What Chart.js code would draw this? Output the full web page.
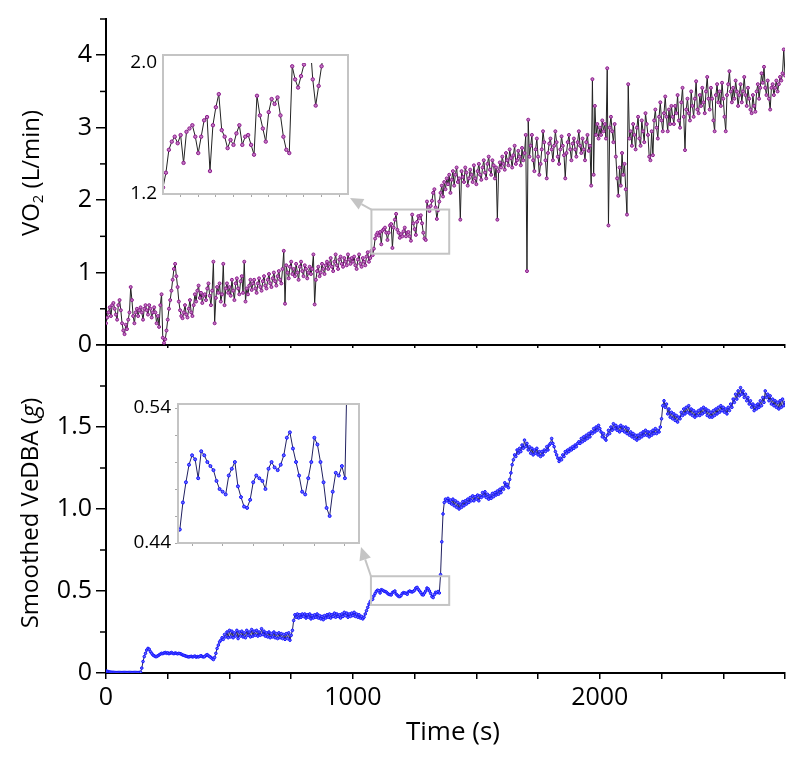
<!DOCTYPE html>
<html>
<head>
<meta charset="utf-8">
<script src="https://cdn.jsdelivr.net/npm/chart.js@4.4.1/dist/chart.umd.min.js"></script>
<style>
  body { margin: 0; background: #fff; }
  #wrap { position: relative; width: 800px; height: 759px; font-family: "Open Sans", sans-serif; color: #000; }
  canvas { position: absolute; left: 0; top: 0; }
  .title { position: absolute; white-space: nowrap; line-height: 1; }
  .rot { transform: translate(-50%, -50%) rotate(-90deg); }
  .hor { transform: translate(-50%, -50%); }
  sub { font-size: 0.62em; vertical-align: -0.25em; line-height: 0; }
</style>
</head>
<body>
<div id="wrap">
  <canvas id="vo2Main" width="800" height="759"></canvas>
  <canvas id="vedbaMain" width="800" height="759"></canvas>
  <canvas id="vo2Inset" width="800" height="759"></canvas>
  <canvas id="vedbaInset" width="800" height="759"></canvas>
  <div class="title rot" style="left:30px; top:173px; font-size:24px;">VO<sub>2</sub> (L/min)</div>
  <div class="title rot" style="left:29px; top:513px; font-size:24px;">Smoothed VeDBA (<i>g</i>)</div>
  <div class="title hor" style="left:453px; top:730px; font-size:26px;">Time (s)</div>
</div>
<script>
// samples every 5 s, from 0 to 2750 s
const SAMPLE_STEP = 5;

// VO2 (L/min), one value per sample
const vo2 = [
  0.30,0.38,0.45,0.52,0.40,0.55,0.58,0.50,0.42,0.35,0.55,0.62,0.48,0.30,0.20,0.15,0.28,0.22,0.35,0.45,
  0.80,0.62,0.40,0.30,0.45,0.50,0.40,0.48,0.52,0.45,0.35,0.50,0.55,0.48,0.42,0.55,0.50,0.38,0.45,0.52,
  0.45,0.30,0.40,0.25,0.55,0.70,0.10,0.03,0.08,0.20,0.35,0.50,0.62,0.75,0.90,1.05,1.12,0.95,0.80,0.60,
  0.48,0.40,0.37,0.45,0.55,0.42,0.38,0.50,0.62,0.45,0.40,0.55,0.70,0.60,0.75,0.82,0.65,0.72,0.58,0.68,
  0.70,0.62,0.78,0.85,0.68,0.55,0.75,1.15,0.30,0.65,0.80,0.72,0.85,0.60,0.70,1.12,0.55,0.78,0.85,0.72,
  0.80,0.68,0.90,0.75,0.62,0.85,0.92,0.78,0.70,0.88,0.95,0.72,1.15,0.60,0.78,0.70,0.82,0.90,0.76,0.85,
  0.90,0.78,0.72,0.85,0.92,0.80,0.75,0.88,0.95,0.82,0.78,0.90,0.98,0.85,0.80,0.92,1.00,0.88,0.82,0.95,
  1.02,0.90,0.85,1.05,1.30,0.57,1.10,1.00,0.92,1.08,1.15,0.98,1.05,0.95,1.12,1.00,0.90,1.08,1.15,1.02,
  0.95,1.10,1.05,0.92,1.00,1.08,0.98,1.05,1.25,0.56,0.90,1.02,1.08,0.95,1.00,1.12,1.05,0.98,1.10,1.15,
  1.05,1.12,1.20,1.08,1.02,1.15,1.25,1.10,1.05,1.18,1.22,1.12,1.08,1.20,1.15,1.10,1.25,1.18,1.12,1.20,
  1.15,1.22,1.10,1.05,1.18,1.25,1.12,1.08,1.20,1.15,1.10,1.22,1.28,1.15,1.20,1.30,1.24,1.33,1.47,1.52,
  1.55,1.51,1.56,1.39,1.58,1.60,1.62,1.55,1.45,1.55,1.65,1.67,1.34,1.62,1.73,1.81,1.59,1.55,1.48,1.53,
  1.50,1.57,1.62,1.50,1.55,1.56,1.50,1.44,1.80,1.68,1.60,1.52,1.70,1.78,1.75,1.79,1.68,1.55,1.47,1.45,
  1.98,1.90,1.85,1.92,1.99,2.10,2.15,1.90,1.74,1.86,1.98,2.10,2.20,2.05,2.25,2.15,2.30,2.22,2.35,2.10,
  2.28,2.40,2.20,2.35,2.45,2.25,2.30,1.73,2.40,2.32,2.25,2.45,2.38,2.20,2.30,2.42,2.35,2.25,2.48,2.30,
  2.22,2.40,2.50,2.35,2.28,2.45,2.55,2.38,2.30,2.50,2.60,2.42,2.35,2.55,2.48,2.30,2.45,1.73,2.40,2.52,
  2.45,2.60,2.50,2.42,2.65,2.55,2.48,2.70,2.58,2.45,2.62,2.75,2.50,2.55,2.68,2.60,2.48,2.72,2.55,2.65,
  2.90,1.02,3.11,2.60,2.75,2.90,2.55,2.40,2.70,2.85,2.60,2.35,2.50,2.70,2.95,2.80,2.55,2.30,2.65,2.78,
  2.85,2.70,2.55,2.75,2.95,2.80,2.60,2.50,2.70,2.88,2.75,2.62,2.30,2.65,2.80,2.90,2.70,2.55,2.78,2.85,
  2.70,2.60,2.80,2.95,2.75,2.65,2.85,2.70,2.55,2.80,2.90,2.68,2.75,2.20,3.67,2.35,3.30,2.90,3.05,2.85,
  3.00,2.90,3.10,2.95,3.05,2.85,3.82,1.65,3.00,3.15,2.95,2.80,3.05,2.60,2.30,2.06,2.45,2.20,2.65,2.35,
  2.50,2.15,1.80,3.60,2.85,2.95,2.75,3.05,2.90,2.70,3.00,3.15,2.85,2.75,3.10,2.95,2.80,3.20,3.05,2.90,
  2.60,2.55,2.95,2.62,3.10,3.25,3.00,2.85,3.15,3.35,3.10,2.95,3.20,3.43,3.15,2.95,3.25,3.05,3.30,3.15,
  3.05,3.30,3.20,3.45,3.10,3.00,3.35,3.55,3.15,2.69,3.25,3.40,3.20,3.10,3.50,3.30,3.15,3.40,3.64,3.25,
  3.20,3.45,3.30,3.55,3.35,3.20,3.50,3.70,3.40,3.25,3.55,3.40,3.10,2.95,3.45,3.60,3.35,3.50,3.30,3.62,
  3.40,3.15,2.95,3.45,3.60,3.78,3.50,3.35,3.55,3.40,3.65,3.50,3.30,3.45,3.60,3.35,3.50,3.70,3.45,3.30,
  3.55,3.40,3.25,3.20,3.45,3.30,3.22,3.50,3.60,3.40,3.55,3.75,3.62,3.84,3.55,3.45,3.65,3.40,3.25,3.55,
  3.60,3.45,3.55,3.65,3.50,3.60,3.70,3.65,3.75,4.08,3.72
];

// smoothed VeDBA (g), one value per sample
const vedba = [
  0.012,0.010,0.008,0.006,0.005,0.004,0.004,0.003,0.003,0.003,0.003,0.003,0.003,0.003,0.003,0.003,0.003,0.003,0.003,0.003,
  0.003,0.003,0.003,0.003,0.003,0.003,0.003,0.003,0.005,0.030,0.070,0.100,0.120,0.140,0.150,0.145,0.130,0.120,0.110,0.105,
  0.100,0.100,0.105,0.110,0.115,0.120,0.118,0.122,0.125,0.120,0.123,0.118,0.121,0.125,0.120,0.118,0.122,0.120,0.117,0.120,
  0.118,0.115,0.110,0.108,0.105,0.102,0.100,0.098,0.100,0.102,0.098,0.100,0.103,0.097,0.100,0.098,0.102,0.105,0.100,0.098,
  0.100,0.108,0.112,0.105,0.100,0.095,0.088,0.082,0.095,0.120,0.150,0.170,0.190,0.200,0.215,0.205,0.235,0.220,0.250,0.215,
  0.260,0.220,0.255,0.215,0.245,0.225,0.260,0.210,0.250,0.225,0.255,0.220,0.245,0.215,0.260,0.230,0.250,0.220,0.265,0.225,
  0.255,0.230,0.260,0.225,0.250,0.230,0.270,0.235,0.255,0.225,0.245,0.220,0.250,0.215,0.240,0.220,0.250,0.215,0.240,0.210,
  0.245,0.215,0.240,0.210,0.235,0.205,0.240,0.210,0.245,0.200,0.230,0.260,0.320,0.355,0.340,0.360,0.335,0.355,0.340,0.360,
  0.345,0.360,0.335,0.355,0.340,0.360,0.330,0.350,0.335,0.355,0.340,0.360,0.335,0.350,0.330,0.345,0.325,0.350,0.335,0.355,
  0.340,0.360,0.335,0.355,0.345,0.365,0.340,0.360,0.345,0.355,0.335,0.360,0.345,0.370,0.350,0.365,0.340,0.360,0.345,0.365,
  0.350,0.370,0.345,0.360,0.340,0.355,0.335,0.345,0.330,0.340,0.360,0.380,0.400,0.420,0.435,0.445,0.450,0.470,0.485,0.498,
  0.505,0.502,0.488,0.508,0.505,0.500,0.497,0.494,0.486,0.480,0.478,0.476,0.490,0.495,0.500,0.482,0.474,0.467,0.466,0.472,
  0.485,0.490,0.488,0.486,0.480,0.495,0.500,0.496,0.494,0.498,0.505,0.518,0.522,0.510,0.500,0.490,0.478,0.476,0.488,0.500,
  0.518,0.513,0.500,0.485,0.466,0.460,0.478,0.492,0.490,0.497,0.488,0.600,0.800,0.970,1.040,1.060,1.050,1.065,1.040,1.055,
  1.030,1.060,1.020,1.050,1.010,1.040,1.000,1.030,1.010,1.045,1.020,1.050,1.030,1.060,1.040,1.070,1.050,1.080,1.050,1.075,
  1.060,1.085,1.050,1.080,1.070,1.100,1.080,1.105,1.070,1.090,1.060,1.080,1.065,1.095,1.075,1.100,1.085,1.110,1.090,1.120,
  1.100,1.130,1.120,1.160,1.140,1.150,1.130,1.180,1.220,1.270,1.300,1.330,1.320,1.360,1.340,1.370,1.350,1.390,1.370,1.420,
  1.380,1.400,1.360,1.380,1.340,1.370,1.330,1.360,1.340,1.370,1.330,1.350,1.320,1.350,1.330,1.360,1.350,1.380,1.360,1.390,
  1.400,1.430,1.400,1.380,1.350,1.330,1.310,1.290,1.310,1.300,1.330,1.320,1.350,1.340,1.360,1.350,1.370,1.360,1.380,1.370,
  1.390,1.380,1.400,1.410,1.400,1.430,1.410,1.440,1.420,1.450,1.430,1.460,1.440,1.470,1.460,1.490,1.470,1.500,1.480,1.510,
  1.490,1.470,1.440,1.460,1.430,1.420,1.450,1.480,1.460,1.500,1.480,1.520,1.490,1.510,1.480,1.500,1.470,1.510,1.480,1.500,
  1.470,1.500,1.460,1.490,1.450,1.470,1.440,1.460,1.430,1.450,1.420,1.450,1.430,1.460,1.440,1.470,1.450,1.480,1.450,1.470,
  1.440,1.470,1.450,1.480,1.460,1.490,1.460,1.480,1.470,1.500,1.550,1.630,1.660,1.620,1.640,1.580,1.610,1.560,1.590,1.550,
  1.580,1.540,1.570,1.530,1.560,1.550,1.590,1.570,1.610,1.580,1.620,1.590,1.630,1.580,1.610,1.570,1.600,1.560,1.590,1.570,
  1.600,1.570,1.610,1.580,1.620,1.590,1.610,1.570,1.600,1.560,1.590,1.560,1.600,1.570,1.610,1.580,1.620,1.590,1.630,1.600,
  1.620,1.590,1.610,1.580,1.620,1.600,1.640,1.620,1.670,1.650,1.700,1.670,1.720,1.690,1.740,1.700,1.720,1.680,1.700,1.660,
  1.680,1.640,1.660,1.620,1.640,1.600,1.630,1.610,1.640,1.620,1.660,1.630,1.680,1.650,1.720,1.680,1.700,1.660,1.690,1.640,
  1.670,1.630,1.660,1.620,1.650,1.610,1.660,1.620,1.670,1.630,1.650
];

// axes
const timeRange = [0, 2750];
const timeTickStep = 250;
const timeTickLabels = [0, 1000, 2000];
const vo2Range = [0, 4.5];
const vo2TickLabels = [0, 1, 2, 3, 4];
const vo2MinorTicks = [0.5, 1.5, 2.5, 3.5, 4.5];
const vedbaRange = [0, 2];
const vedbaTickLabels = [0, 0.5, 1, 1.5];
const vedbaMinorTicks = [0.25, 0.75, 1.25, 1.75];

// insets
const vo2InsetTime = [1080, 1395];
const vo2InsetRange = [1.2, 2.049];
const vo2InsetTimeTicks = [1110, 1140, 1170, 1200, 1230, 1260, 1290, 1320, 1350, 1380];
const vo2InsetTickLabels = [1.2, 2.0];
const vo2ZoomBoxTime = [1075, 1390];
const vo2ZoomBoxValue = [1.26, 1.87];

const vedbaInsetTime = [1077, 1373];
const vedbaInsetRange = [0.44, 0.543];
const vedbaInsetTimeTicks = [1100, 1150, 1200, 1250, 1300, 1350];
const vedbaInsetTicks = [0.44, 0.45, 0.46, 0.47, 0.48, 0.49, 0.50, 0.51, 0.52, 0.53, 0.54];
const vedbaInsetTickLabels = [0.44, 0.54];
const vedbaZoomBoxTime = [1073, 1390];
const vedbaZoomBoxValue = [0.415, 0.59];

const timeSec = vo2.map((_, i) => i * SAMPLE_STEP);
const points = (vals) => vals.map((v, i) => ({ x: timeSec[i], y: v }));

const FONT = '"Open Sans", sans-serif';
const GREY = '#c4c4c4';

const minorTicks = {
  id: 'minorTicks',
  afterDraw(chart, args, opts) {
    if (!opts.values) return;
    const s = chart.scales.y;
    const ctx = chart.ctx;
    ctx.save();
    ctx.strokeStyle = '#000';
    ctx.lineWidth = 1.5;
    opts.values.forEach(v => {
      const y = s.getPixelForValue(v);
      ctx.beginPath();
      ctx.moveTo(s.right - opts.len, y);
      ctx.lineTo(s.right, y);
      ctx.stroke();
    });
    ctx.restore();
  }
};

// grey frame round the inset, grey box on the main plot and an arrow between them
function zoomLink(mainChart, boxT, boxV) {
  return {
    id: 'zoomLink',
    afterDraw(chart) {
      const ctx = chart.ctx;
      const a = chart.chartArea;
      const xs = mainChart.scales.x, ys = mainChart.scales.y;
      const x0 = xs.getPixelForValue(boxT[0]), x1 = xs.getPixelForValue(boxT[1]);
      const y0 = ys.getPixelForValue(boxV[1]), y1 = ys.getPixelForValue(boxV[0]);
      ctx.save();
      ctx.strokeStyle = GREY;
      ctx.lineWidth = 2;
      ctx.strokeRect(a.left, a.top, a.right - a.left, a.bottom - a.top);
      ctx.strokeRect(x0, y0, x1 - x0, y1 - y0);
      const tx = a.right + 2, ty = a.bottom + 4;
      const ang = Math.atan2(ty - y0, tx - x0);
      const hl = 13, hw = 6;
      const bx = tx - hl * Math.cos(ang), by = ty - hl * Math.sin(ang);
      ctx.beginPath();
      ctx.moveTo(x0, y0);
      ctx.lineTo(bx, by);
      ctx.stroke();
      ctx.fillStyle = GREY;
      ctx.beginPath();
      ctx.moveTo(tx, ty);
      ctx.lineTo(bx + hw * Math.sin(ang), by - hw * Math.cos(ang));
      ctx.lineTo(bx - hw * Math.sin(ang), by + hw * Math.cos(ang));
      ctx.closePath();
      ctx.fill();
      ctx.restore();
    }
  };
}

const baseOpts = {
  responsive: false,
  animation: false,
  devicePixelRatio: 1,
  events: [],
};

function mainChart(id, vals, style, yRange, yLabels, yStep, yDigits, minor, pad, xHeight, showX) {
  return new Chart(document.getElementById(id), {
    type: 'line',
    data: { datasets: [Object.assign({ data: points(vals), tension: 0, borderWidth: 1 }, style)] },
    options: Object.assign({}, baseOpts, {
      layout: { padding: pad },
      plugins: { legend: { display: false }, tooltip: { enabled: false }, minorTicks: { values: minor, len: 6 } },
      scales: {
        x: {
          type: 'linear', min: timeRange[0], max: timeRange[1],
          afterFit: s => { s.height = xHeight; },
          border: { color: '#000', width: 2 },
          grid: { drawOnChartArea: false, tickLength: showX ? 6 : 3, color: '#000', lineWidth: 1.5 },
          ticks: {
            display: showX, stepSize: timeTickStep, includeBounds: false, maxRotation: 0, autoSkip: false,
            padding: 4, color: '#000', font: { family: FONT, size: 25 },
            callback: v => timeTickLabels.includes(v) ? String(v) : ''
          }
        },
        y: {
          min: yRange[0], max: yRange[1],
          afterFit: s => { s.width = 106; },
          border: { color: '#000', width: 2 },
          grid: { drawOnChartArea: false, tickLength: 10, color: '#000', lineWidth: 1.5 },
          ticks: {
            stepSize: yStep, includeBounds: false, padding: 4, color: '#000', font: { family: FONT, size: 25 },
            callback: v => yLabels.includes(v) ? (v === 0 ? '0' : v.toFixed(yDigits)) : ''
          }
        }
      }
    }),
    plugins: [minorTicks]
  });
}

const vo2Style = {
  borderColor: '#222', pointRadius: 1.5, pointBorderWidth: 1,
  pointBorderColor: '#8c1a8c', pointBackgroundColor: '#c27ac2'
};
const vedbaStyle = {
  borderColor: '#202060', pointRadius: 1.3, pointBorderWidth: 1,
  pointBorderColor: '#1414ff', pointBackgroundColor: '#6a6aff'
};

const vo2Chart = mainChart('vo2Main', vo2, vo2Style, vo2Range, vo2TickLabels, 1, 0, vo2MinorTicks,
  { left: 0, right: 15, top: 15, bottom: 404 }, 10, false);
const vedbaChart = mainChart('vedbaMain', vedba, vedbaStyle, vedbaRange, vedbaTickLabels, 0.5, 1, vedbaMinorTicks,
  { left: 0, right: 15, top: 345, bottom: 6 }, 80, true);

function insetChart(id, vals, style, tRange, tTicks, vRange, vTicks, vLabels, digits, area, yTickLen, clip, main, boxT, boxV) {
  return new Chart(document.getElementById(id), {
    type: 'line',
    data: { datasets: [Object.assign({ data: points(vals), tension: 0, borderWidth: 1, clip: clip }, style)] },
    options: Object.assign({}, baseOpts, {
      layout: { padding: { left: 0, right: 800 - area.right, top: area.top, bottom: 759 - area.bottom - 8 } },
      plugins: { legend: { display: false }, tooltip: { enabled: false } },
      scales: {
        x: {
          type: 'linear', min: tRange[0], max: tRange[1],
          afterFit: s => { s.height = 8; },
          afterBuildTicks: s => { s.ticks = tTicks.map(v => ({ value: v })); },
          border: { display: false },
          grid: { drawOnChartArea: false, tickLength: 3, color: '#a8a8a8', lineWidth: 1 },
          ticks: { display: false }
        },
        y: {
          min: vRange[0], max: vRange[1],
          afterFit: s => { s.width = area.left; },
          afterBuildTicks: s => { s.ticks = vTicks.map(v => ({ value: v })); },
          border: { display: false },
          grid: { drawOnChartArea: false, drawTicks: yTickLen > 0, tickLength: yTickLen, color: '#a8a8a8', lineWidth: 1 },
          ticks: {
            padding: yTickLen > 0 ? 4 : 6, color: '#000', font: { family: FONT, size: 19 },
            callback: v => vLabels.includes(v) ? v.toFixed(digits) : ''
          }
        }
      }
    }),
    plugins: [zoomLink(main, boxT, boxV)]
  });
}

insetChart('vo2Inset', vo2, Object.assign({}, vo2Style, { pointRadius: 1.7 }), vo2InsetTime, vo2InsetTimeTicks,
  vo2InsetRange, vo2InsetTickLabels, vo2InsetTickLabels, 1,
  { left: 163, right: 348, top: 55, bottom: 194 }, 0, { left: 0, top: -8, right: 0, bottom: 0 },
  vo2Chart, vo2ZoomBoxTime, vo2ZoomBoxValue);

insetChart('vedbaInset', vedba, Object.assign({}, vedbaStyle, { pointRadius: 1.5 }), vedbaInsetTime, vedbaInsetTimeTicks,
  vedbaInsetRange, vedbaInsetTicks, vedbaInsetTickLabels, 2,
  { left: 178, right: 359, top: 404, bottom: 543 }, 3, { left: 0, top: 0, right: 0, bottom: 0 },
  vedbaChart, vedbaZoomBoxTime, vedbaZoomBoxValue);
</script>
</body>
</html>
